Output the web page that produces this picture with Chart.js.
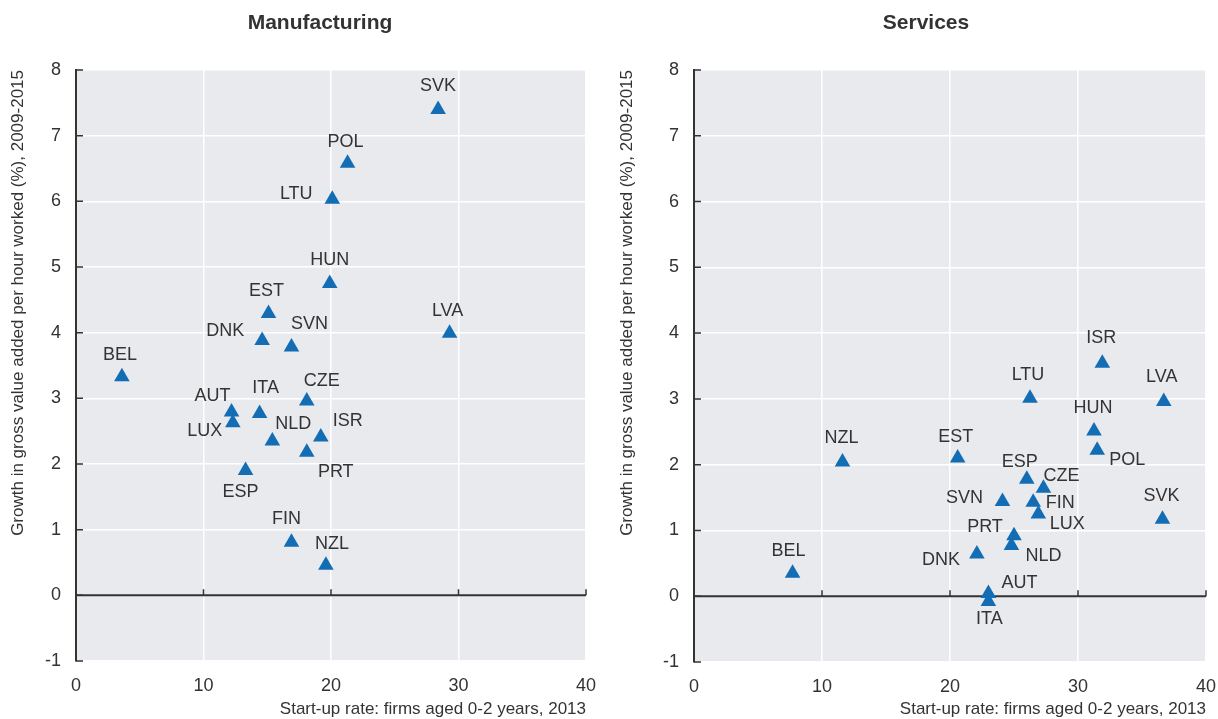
<!DOCTYPE html>
<html>
<head>
<meta charset="utf-8">
<script src="https://cdn.jsdelivr.net/npm/chart.js@4.4.0/dist/chart.umd.min.js"></script>
<style>
html, body { margin: 0; padding: 0; background: #fff; }
#wrap { display: flex; width: 1218px; height: 719px; }
.box { width: 609px; height: 719px; }
</style>
</head>
<body>
<div id="wrap">
  <div class="box"><canvas id="mfg" width="609" height="719"></canvas></div>
  <div class="box"><canvas id="svc" width="609" height="719"></canvas></div>
</div>
<script>
// axis ranges / ticks
const xTicks = [0, 10, 20, 30, 40];
const yTicks = [-1, 0, 1, 2, 3, 4, 5, 6, 7, 8];

// Manufacturing
const mfgCodes   = ['SVK', 'POL', 'LTU', 'HUN', 'EST', 'DNK', 'SVN', 'LVA', 'BEL', 'CZE', 'AUT', 'LUX', 'ITA', 'NLD', 'ISR', 'PRT', 'ESP', 'FIN', 'NZL'];
const mfgStartup = [28.4, 21.3, 20.1, 19.9, 15.1, 14.6, 16.9, 29.3, 3.6, 18.1, 12.2, 12.3, 14.4, 15.4, 19.2, 18.1, 13.3, 16.9, 19.6];
const mfgGrowth  = [7.40, 6.58, 6.03, 4.75, 4.29, 3.88, 3.78, 3.99, 3.33, 2.96, 2.79, 2.63, 2.77, 2.35, 2.41, 2.18, 1.90, 0.81, 0.46];

// Services
const svcCodes   = ['ISR', 'LVA', 'LTU', 'HUN', 'POL', 'NZL', 'EST', 'ESP', 'CZE', 'SVN', 'FIN', 'LUX', 'SVK', 'PRT', 'NLD', 'DNK', 'BEL', 'AUT', 'ITA'];
const svcStartup = [31.9, 36.7, 26.25, 31.25, 31.5, 11.6, 20.6, 26.0, 27.3, 24.1, 26.5, 26.9, 36.6, 25.0, 24.8, 22.1, 7.7, 23.0, 23.0];
const svcGrowth  = [3.54, 2.96, 3.01, 2.51, 2.22, 2.04, 2.10, 1.78, 1.64, 1.44, 1.43, 1.25, 1.17, 0.92, 0.77, 0.64, 0.35, 0.04, -0.08];

// label placement (pixel offset from marker)
const mfgLabelPos = {
  SVK: [0, -23], POL: [-2, -21], LTU: [-36, -5], HUN: [0, -23], EST: [-2, -23],
  DNK: [-37, -10], SVN: [18, -23], LVA: [-2, -22], BEL: [-2, -22], CZE: [15, -20],
  AUT: [-19, -16], LUX: [-28, 8], ITA: [6, -25], NLD: [21, -17], ISR: [27, -16],
  PRT: [29, 20], ESP: [-5, 21], FIN: [-5, -23], NZL: [6, -21]
};
const svcLabelPos = {
  ISR: [-1, -25], LVA: [-2, -24], LTU: [-2, -23], HUN: [-1, -23], POL: [30, 10],
  NZL: [-1, -24], EST: [-2, -21], ESP: [-7, -17], CZE: [18, -12], SVN: [-38, -3],
  FIN: [27, 1], LUX: [29, 10], SVK: [-1, -23], PRT: [-29, -9], NLD: [32, 10],
  DNK: [-36, 6], BEL: [-4, -22], AUT: [31, -11], ITA: [1, 18]
};

const FONT = "'Liberation Sans Narrow', 'Arial Narrow', 'Liberation Sans', sans-serif";
const INK = '#333333';
const BLUE = '#136db4';

const plotDecor = {
  id: 'plotDecor',
  beforeDraw(chart) {
    const a = chart.chartArea, ctx = chart.ctx;
    ctx.save();
    ctx.fillStyle = '#e9eaed';
    ctx.fillRect(a.left, a.top, a.right - a.left, a.bottom - a.top);
    // title
    ctx.fillStyle = INK;
    ctx.font = 'bold 21px ' + FONT;
    ctx.textAlign = 'center';
    ctx.textBaseline = 'middle';
    ctx.fillText(chart.options.plugins.plotDecor.title, chart.options.plugins.plotDecor.titleX, 23);
    ctx.restore();
  },
  beforeDatasetsDraw(chart) {
    const a = chart.chartArea, ctx = chart.ctx;
    const xs = chart.scales.x, ys = chart.scales.y;
    const y0 = ys.getPixelForValue(0);
    ctx.save();
    ctx.strokeStyle = INK;
    ctx.lineWidth = 2;
    ctx.beginPath();
    ctx.moveTo(a.left, y0);
    ctx.lineTo(a.right, y0);
    ctx.stroke();
    ctx.lineWidth = 1.5;
    ctx.beginPath();
    yTicks.forEach(v => {
      const p = ys.getPixelForValue(v);
      ctx.moveTo(a.left, p);
      ctx.lineTo(a.left + 7, p);
    });
    xTicks.forEach(v => {
      if (v === 0) return;
      const p = xs.getPixelForValue(v);
      ctx.moveTo(p, y0);
      ctx.lineTo(p, y0 - 6);
    });
    ctx.stroke();
    ctx.restore();
  },
  afterDatasetsDraw(chart) {
    const ctx = chart.ctx;
    const opts = chart.options.plugins.plotDecor;
    const meta = chart.getDatasetMeta(0);
    ctx.save();
    ctx.fillStyle = INK;
    ctx.font = '18px ' + FONT;
    ctx.textAlign = 'center';
    ctx.textBaseline = 'middle';
    opts.codes.forEach((c, i) => {
      const pt = meta.data[i];
      const off = opts.labelPos[c];
      ctx.fillText(c, pt.x + off[0], pt.y + off[1]);
    });
    ctx.restore();
  }
};

function makeChart(id, title, titleX, codes, xs, ys, labelPos, box) {
  const points = xs.map((x, i) => ({ x: x, y: ys[i] }));
  return new Chart(document.getElementById(id), {
    type: 'scatter',
    data: {
      datasets: [{
        data: points,
        pointStyle: 'triangle',
        pointRadius: 9,
        pointHoverRadius: 9,
        backgroundColor: BLUE,
        borderColor: BLUE,
        borderWidth: 0
      }]
    },
    options: {
      responsive: false,
      animation: false,
      layout: { padding: { top: box.top, right: box.right, left: 0, bottom: 0 } },
      plugins: {
        legend: { display: false },
        tooltip: { enabled: false },
        plotDecor: { title: title, titleX: titleX, codes: codes, labelPos: labelPos }
      },
      scales: {
        x: {
          type: 'linear',
          min: xTicks[0],
          max: xTicks[xTicks.length - 1],
          afterBuildTicks: s => { s.ticks = xTicks.map(v => ({ value: v })); },
          afterFit: s => { s.height = box.xHeight; s.paddingLeft = 0; s.paddingRight = 0; },
          grid: {
            drawTicks: false,
            color: c => (c.tick && c.tick.value === 0) ? 'rgba(0,0,0,0)' : '#ffffff',
            lineWidth: 1.5
          },
          border: { display: false },
          ticks: { color: INK, font: { family: FONT, size: 18 }, padding: 14 },
          title: {
            display: true,
            text: 'Start-up rate: firms aged 0-2 years, 2013',
            align: 'end',
            color: INK,
            font: { family: FONT, size: 17 },
            padding: { top: 0, bottom: -1 }
          }
        },
        y: {
          type: 'linear',
          min: yTicks[0],
          max: yTicks[yTicks.length - 1],
          afterBuildTicks: s => { s.ticks = yTicks.map(v => ({ value: v })); },
          afterFit: s => { s.width = box.left; s.paddingTop = 0; s.paddingBottom = 0; },
          grid: {
            drawTicks: false,
            color: c => (c.tick && c.tick.value === 0) ? 'rgba(0,0,0,0)' : '#ffffff',
            lineWidth: 1.5
          },
          border: { display: true, color: INK, width: 2 },
          ticks: { color: INK, font: { family: FONT, size: 18 }, padding: 15 },
          title: {
            display: true,
            text: 'Growth in gross value added per hour worked (%), 2009-2015',
            align: 'end',
            color: INK,
            font: { family: FONT, size: 17 },
            padding: { top: 8, bottom: 0 }
          }
        }
      }
    },
    plugins: [plotDecor]
  });
}

makeChart('mfg', 'Manufacturing', 320, mfgCodes, mfgStartup, mfgGrowth, mfgLabelPos,
  { left: 76, right: 23, top: 70, xHeight: 58 });
makeChart('svc', 'Services', 317, svcCodes, svcStartup, svcGrowth, svcLabelPos,
  { left: 85, right: 12, top: 70, xHeight: 57 });
</script>
</body>
</html>
